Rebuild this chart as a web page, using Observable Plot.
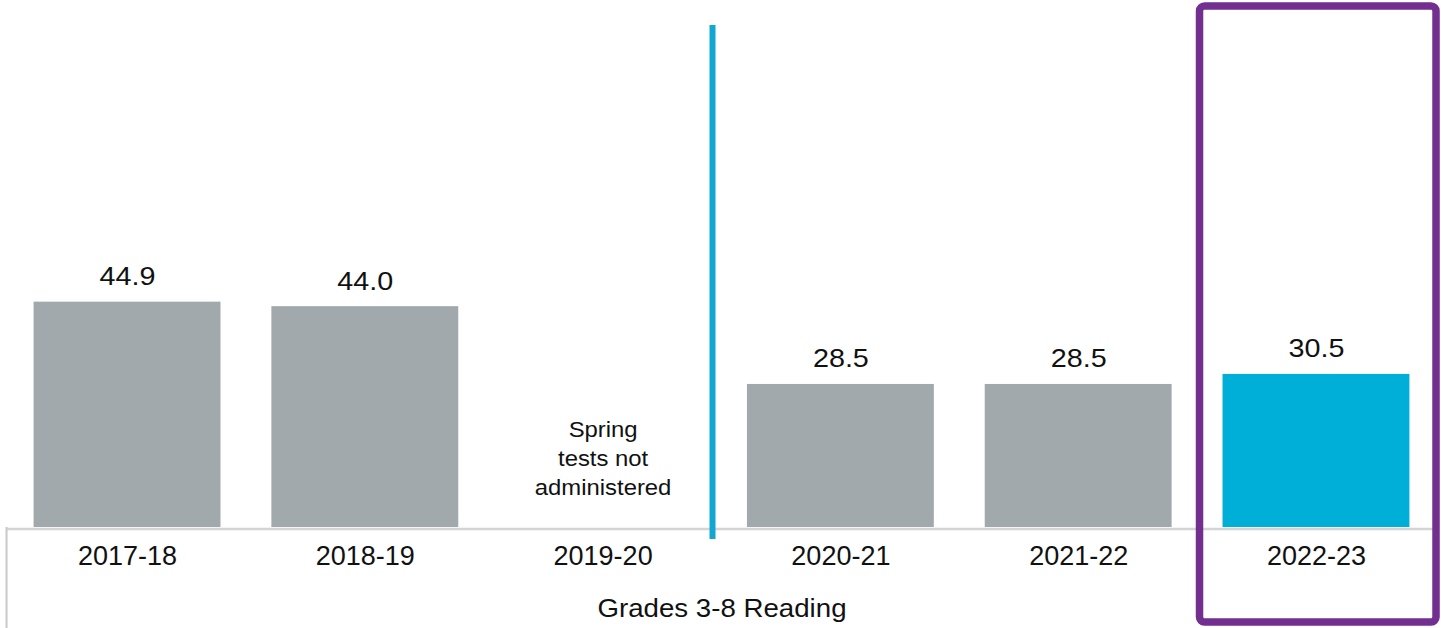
<!DOCTYPE html>
<html>
<head>
<meta charset="utf-8">
<script src="https://cdn.jsdelivr.net/npm/d3@7"></script>
<script src="https://cdn.jsdelivr.net/npm/@observablehq/plot@0.6"></script>
<style>
  html, body { margin: 0; padding: 0; background: #fff; }
  svg { display: block; font-family: "Liberation Sans", Arial, sans-serif; }
</style>
</head>
<body>
<div id="chart"></div>
<script>
const years = ["2017-18", "2018-19", "2019-20", "2020-21", "2021-22", "2022-23"];
const values = [44.9, 44.0, null, 28.5, 28.5, 30.5];
const highlightYear = "2022-23";
const missingYear = "2019-20";
const missingNote = "Spring\ntests not\nadministered";
const groupLabel = "Grades 3-8 Reading";

const data = years.map((y, i) => ({year: y, value: values[i]}));
const bars = data.filter(d => d.value != null);

const chart = Plot.plot({
  width: 1441,
  height: 628,
  marginTop: 0,
  marginLeft: 6,
  marginRight: 4,
  marginBottom: 101,
  style: {fontFamily: "Liberation Sans, Arial, sans-serif", background: "#fff"},
  x: {domain: years, paddingInner: 0.214, paddingOuter: 0.116, round: false, label: null},
  y: {domain: [0, 105], axis: null},
  marks: [
    Plot.barY(bars, {
      x: "year", y: "value",
      fill: d => d.year === highlightYear ? "#00AFD7" : "#A2A9AD"
    }),
    Plot.text(bars, {
      x: "year", y: "value", text: d => d.value.toFixed(1),
      lineAnchor: "bottom", dy: -17, fontSize: 26.5, fill: "#111"
    }),
    Plot.text([missingYear], {
      x: d => d, y: 14.15, text: () => missingNote,
      lineAnchor: "middle", lineHeight: 1.31, fontSize: 22, fill: "#111"
    }),
    Plot.ruleY([0], {stroke: "#d4d4d4", strokeWidth: 2.5, dy: 1.5}),
    Plot.ruleX([years[0]], {y1: 0, y2: -20.2, dx: -121, stroke: "#c8c8c8", strokeWidth: 2}),
    Plot.ruleX([missingYear], {y1: -2.39, y2: 100, dx: 109.4, stroke: "#12A6D3", strokeWidth: 6}),
    Plot.axisX({tickSize: 0, tickPadding: 18, fontSize: 27, fill: "#111"}),
    Plot.text([groupLabel], {
      frameAnchor: "bottom", dy: 81, fontSize: 25.5, fill: "#111", lineAnchor: "middle"
    }),
    Plot.barY([highlightYear], {
      x: d => d, y1: -18.93, y2: 103.8, insetLeft: -23, insetRight: -26.6,
      fill: "none", stroke: "#722F8F", strokeWidth: 7.5, rx: 5
    })
  ]
});
// widen free text slightly to match the reference's wider glyphs
chart.querySelectorAll('g[aria-label="text"] text').forEach(t => {
  const tr = t.getAttribute("transform");
  if (tr) t.setAttribute("transform", tr + " scale(1.085,1)");
});
document.getElementById("chart").appendChild(chart);
</script>
</body>
</html>
